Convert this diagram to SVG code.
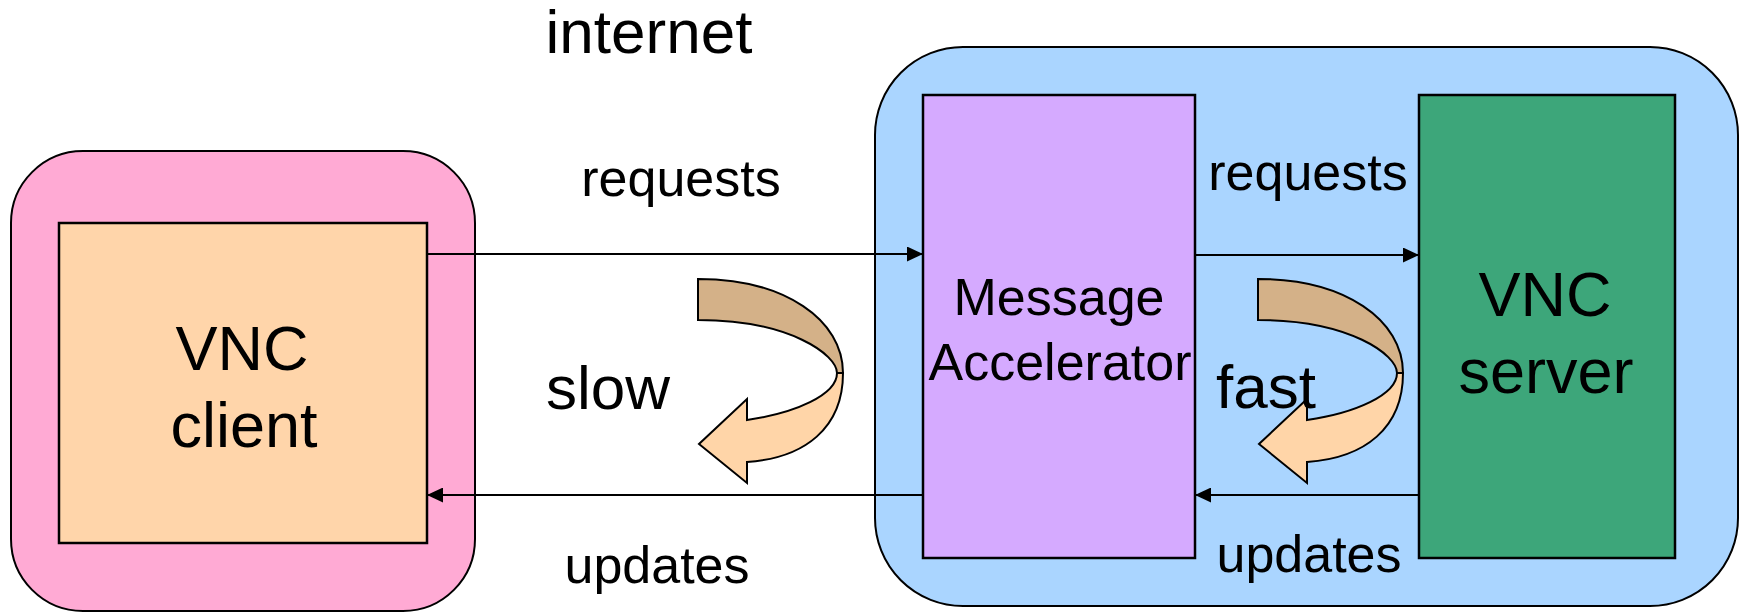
<svg xmlns="http://www.w3.org/2000/svg" width="1741" height="613" viewBox="0 0 1741 613">
<style>
  text { font-family: "Liberation Sans", Arial, sans-serif; fill: #000; }
  .outer { stroke: #000; stroke-width: 2; }
  .box { stroke: #000; stroke-width: 2.5; }
  .conn { stroke: #000; stroke-width: 2; fill: none; }
  .tan { fill: #D4B188; stroke: #000; stroke-width: 2; stroke-linejoin: miter; }
  .peach { fill: #FFD5A8; stroke: #000; stroke-width: 2; stroke-linejoin: miter; }
</style>
<defs>
  <marker id="ah" markerWidth="16" markerHeight="15" refX="16" refY="7.5" orient="auto" markerUnits="userSpaceOnUse">
    <path d="M0,0 L16,7.5 L0,15 Z" fill="#000"/>
  </marker>
  <g id="turn">
    <path class="peach" d="M837,373 L843,373 C843,428 805,458 747,462 L747,483 L699,444 L747,399 L747,420 C795,413 837,395 837,373 Z"/>
    <path class="tan" d="M698,279 C785,279 843,320 843,373 L837,373 C837,355 790,320 698,320 Z"/>
  </g>
</defs>
<rect width="1741" height="613" fill="#fff"/>

<g id="client-host">
  <rect class="outer" x="11" y="151" width="464" height="460" rx="72" ry="72" fill="#FFAAD4"/>
</g>
<g id="server-host">
  <rect class="outer" x="875" y="47" width="863" height="559" rx="88" ry="88" fill="#AAD5FF"/>
</g>
<g id="vnc-client">
  <rect class="box" x="59" y="223" width="368" height="320" fill="#FFD5AA"/>
  <text x="242" y="370" font-size="63" text-anchor="middle">VNC</text>
  <text x="244" y="447" font-size="63" text-anchor="middle">client</text>
</g>
<g id="accelerator">
  <rect class="box" x="923" y="95" width="272" height="463" fill="#D5AAFF"/>
</g>
<g id="vnc-server">
  <rect class="box" x="1419" y="95" width="256" height="463" fill="#3DA67A"/>
  <text x="1545" y="316" font-size="63" text-anchor="middle">VNC</text>
  <text x="1546" y="393" font-size="63" text-anchor="middle">server</text>
</g>

<g id="connectors">
  <line class="conn" x1="427" y1="254" x2="923" y2="254" marker-end="url(#ah)"/>
  <line class="conn" x1="923" y1="495" x2="427" y2="495" marker-end="url(#ah)"/>
  <line class="conn" x1="1195" y1="255" x2="1419" y2="255" marker-end="url(#ah)"/>
  <line class="conn" x1="1419" y1="495" x2="1195" y2="495" marker-end="url(#ah)"/>
</g>

<g id="slow-arrow">
  <use href="#turn"/>
</g>
<g id="fast-arrow">
  <use href="#turn" transform="translate(560,0)"/>
</g>

<g id="labels">
  <text x="649" y="53" font-size="62" text-anchor="middle">internet</text>
  <text x="681" y="196" font-size="52" text-anchor="middle">requests</text>
  <text x="608" y="409" font-size="62" text-anchor="middle">slow</text>
  <text x="657" y="583" font-size="52" text-anchor="middle">updates</text>
  <text x="1059" y="315" font-size="52" text-anchor="middle">Message</text>
  <text x="1060" y="380" font-size="52" text-anchor="middle">Accelerator</text>
  <text x="1308" y="190" font-size="52" text-anchor="middle">requests</text>
  <text x="1266" y="408" font-size="62" text-anchor="middle">fast</text>
  <text x="1309" y="572" font-size="52" text-anchor="middle">updates</text>
</g>
</svg>
